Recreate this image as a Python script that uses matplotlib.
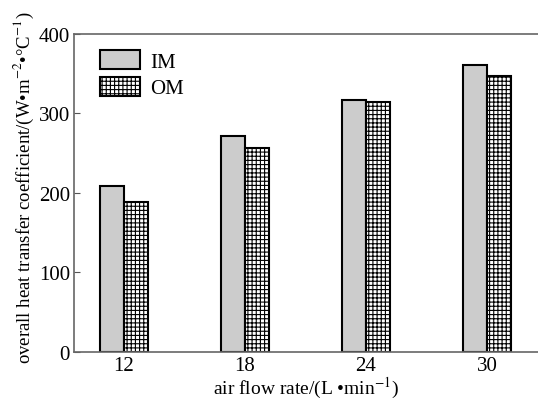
import matplotlib.pyplot as plt
import numpy as np

plt.rcParams['font.family'] = ['Liberation Serif', 'DejaVu Serif']
plt.rcParams['hatch.linewidth'] = 0.8
plt.rcParams['mathtext.fontset'] = 'stix'

flow = [12, 18, 24, 30]
im_vals = [209, 272, 317, 361]
om_vals = [189, 256, 314, 347]

fig = plt.figure(figsize=(5.38, 4.02), dpi=100)
ax = fig.add_axes([0.1375, 0.122, 0.8625, 0.791])

x = np.array(flow, dtype=float)
w = 1.2
ax.bar(x - w / 2, im_vals, w, color='#cccccc', edgecolor='black', linewidth=1.5, label='IM')
ax.bar(x + w / 2, om_vals, w, color='white', edgecolor='black', linewidth=1.5,
       hatch='++++', label='OM')

ax.set_xlim(9.52, 32.53)
ax.set_ylim(0, 400)
ax.set_xticks(flow)
ax.set_yticks([0, 100, 200, 300, 400])
ax.tick_params(axis='y', direction='in', length=4, labelsize=15, color='#555555', pad=3)
ax.tick_params(axis='x', length=0, labelsize=15, pad=3)
for s in ['left', 'top', 'bottom']:
    ax.spines[s].set_color('#666666')
    ax.spines[s].set_linewidth(1.2)
ax.spines['right'].set_visible(False)

ax.set_xlabel('air flow rate/(L \u2022min$^{-1}$)', fontsize=14, labelpad=0)
ax.set_ylabel('overall heat transfer coefficient/(W\u2022m$^{-2}$\u2022°C$^{-1}$)',
              fontsize=13.5, labelpad=2, y=0.52)

ax.legend(loc='upper left', frameon=False, fontsize=15, handlelength=1.9, handleheight=1.0,
          bbox_to_anchor=(0.039, 0.975), borderaxespad=0, labelspacing=0.25, handletextpad=0.5)

fig.savefig('out.png', dpi=100)
